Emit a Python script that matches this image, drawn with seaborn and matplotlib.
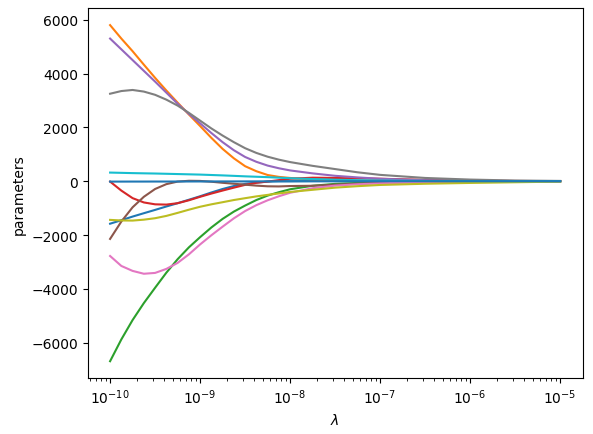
import numpy as np
import pandas as pd
import matplotlib
matplotlib.use("Agg")
import matplotlib.pyplot as plt
import seaborn as sns

log_lambda = [-10, -9.875, -9.75, -9.625, -9.5, -9.375, -9.25, -9.125, -9,
              -8.875, -8.75, -8.625, -8.5, -8.375, -8.25, -8.125, -8,
              -7.75, -7.5, -7.25, -7, -6.5, -6, -5.5, -5]

# coefficient paths, one list per parameter
coef_0 = [-1580, -1450, -1315, -1190, -1067, -940, -818, -690, -560,
          -420, -290, -180, -100, -50, -15, 0, 0, 5, 5, 4, 3, 2, 1, 0, 0]
coef_1 = [5800, 5300, 4830, 4330, 3840, 3370, 2920, 2480, 2050,
          1610, 1200, 850, 557, 370, 230, 160, 120, 60, 25, 10, 5, 0, 0, 0, 0]
coef_2 = [-6690, -5880, -5160, -4530, -3960, -3400, -2900, -2460, -2080,
          -1720, -1401, -1130, -906, -700, -535, -410, -300, -170, -100, -65, -40, -18, -8, -3, -1]
coef_3 = [-15, -350, -630, -790, -860, -870, -818, -710, -580,
          -460, -348, -240, -137, -60, -15, 40, 90, 130, 120, 105, 90, 50, 20, 8, 2]
coef_4 = [5300, 4900, 4500, 4100, 3700, 3290, 2880, 2500, 2150,
          1790, 1450, 1150, 900, 720, 580, 480, 400, 290, 200, 140, 90, 35, 15, 5, 2]
coef_5 = [-2145, -1500, -970, -580, -290, -110, -15, 15, 10,
          -20, -60, -95, -130, -165, -190, -195, -180, -170, -130, -90, -60, -25, -10, -4, 0]
coef_6 = [-2780, -3150, -3334, -3440, -3409, -3260, -3037, -2720, -2350,
          -2010, -1690, -1380, -1110, -890, -710, -560, -430, -260, -165, -115, -80, -30, -12, -5, -2]
coef_7 = [3250, 3350, 3390, 3330, 3210, 3030, 2810, 2540, 2250,
          1960, 1695, 1450, 1226, 1050, 910, 800, 710, 570, 450, 330, 235, 120, 60, 25, 10]
coef_8 = [-1438, -1460, -1464, -1430, -1376, -1290, -1178, -1060, -950,
          -860, -781, -700, -632, -565, -509, -455, -400, -320, -240, -185, -140, -95, -65, -40, -15]
coef_9 = [320, 310, 300, 292, 285, 275, 265, 255, 245,
          230, 215, 198, 180, 165, 150, 130, 110, 80, 55, 38, 25, 10, 5, 2, 1]
coef_10 = [-15, -15, -14, -14, -13, -13, -12, -11, -10,
           -10, -9, -9, -8, -7, -6, -6, -5, -4, -3, -2, -2, -1, 0, 0, 0]

paths = [coef_0, coef_1, coef_2, coef_3, coef_4, coef_5,
         coef_6, coef_7, coef_8, coef_9, coef_10]

# long format table for seaborn
rows = []
for i, vals in enumerate(paths):
    for ll, v in zip(log_lambda, vals):
        rows.append({"lambda": 10.0 ** ll, "value": v, "coef": i})
df = pd.DataFrame(rows)

# default matplotlib cycle, 11th line wraps round to blue
colors = plt.rcParams["axes.prop_cycle"].by_key()["color"]
palette = [colors[i % len(colors)] for i in range(len(paths))]

fig = plt.figure(figsize=(5.93, 4.35), dpi=100)
ax = fig.add_subplot(111)
fig.subplots_adjust(left=0.1477, right=0.9826, top=0.9786, bottom=0.1287)

sns.lineplot(data=df, x="lambda", y="value", hue="coef",
             hue_order=list(range(len(paths))), palette=palette,
             legend=False, ax=ax)
ax.set_xscale("log")
ax.set_xlabel(r"$\lambda$")
ax.set_ylabel("parameters")

fig.savefig("out.png", dpi=100)
